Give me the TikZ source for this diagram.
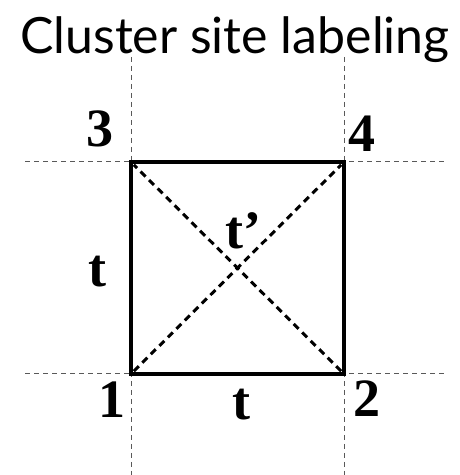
\documentclass[tikz,border=0pt]{standalone}
\usepackage{fontspec}
\setmainfont{Liberation Serif}
\newfontfamily\titlefont{Lato}
\usepackage{tikz}
\usetikzlibrary{positioning,calc}

\begin{document}
\begin{tikzpicture}[
    x=1pt, y=1pt,
    grid/.style  = {draw=black!65, line width=1pt, dash pattern=on 5pt off 4pt},
    bond/.style  = {draw=black, line width=3.2pt, line cap=rect},
    diag/.style  = {draw=black, line width=3pt, dash pattern=on 7pt off 5pt,
                    shorten >=4pt, shorten <=4pt},
    site/.style  = {font=\fontsize{54}{60}\selectfont\bfseries, inner sep=0pt},
    hop/.style   = {site},
]
\useasboundingbox (0,0) rectangle (459,475);

%% ── Sites ────────────────────────────────────────────────────────────────────
\coordinate (s1) at (131,101);
\coordinate (s2) at (344,101);
\coordinate (s3) at (131,313);
\coordinate (s4) at (344,313);

%% ── Guide lines ──────────────────────────────────────────────────────────────
\coordinate (gl) at (25,0);
\coordinate (gr) at (446,0);
\coordinate (gt) at (0,418);
\coordinate (gb) at (0,0);
\draw[grid] (s1 |- gt) -- (s1 |- gb);
\draw[grid] (s2 |- gt) -- (s2 |- gb);
\draw[grid] (s1 -| gl) -- (s1 -| gr);
\draw[grid] (s3 -| gl) -- (s3 -| gr);

%% ── Cluster ──────────────────────────────────────────────────────────────────
\draw[diag] (s1) -- (s4);
\draw[diag] (s2) -- (s3);
\draw[bond] (s1) -- (s2) -- (s4) -- (s3) -- cycle;

%% ── Labels ───────────────────────────────────────────────────────────────────
\node[site] (l1) at (112,75)  {1};
\node[site] (l2) at (367,76)  {2};
\node[site] (l3) at (100,346) {3};
\node[site] (l4) at (362,341) {4};
\node[hop] (tl) at (97,203)  {t};
\node[hop] (tb) at (241,70)  {t};
\node[hop, anchor=base west] (td) at (225,226) {t’};

%% ── Title ────────────────────────────────────────────────────────────────────
\node[font=\titlefont\fontsize{50}{56}\selectfont, anchor=base] (title)
     at (235,421) {Cluster site labeling};

\end{tikzpicture}
\end{document}
